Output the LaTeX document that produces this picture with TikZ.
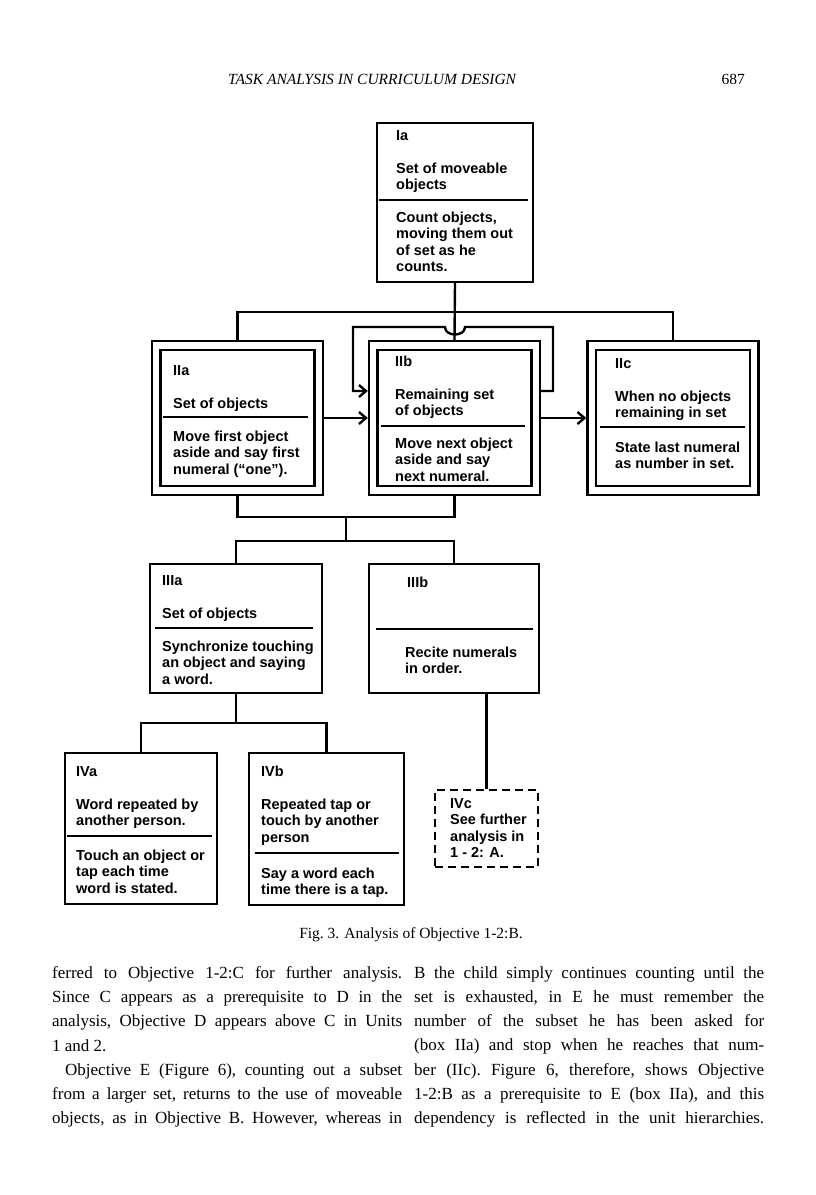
\documentclass[tikz,border=0pt]{standalone}
\usepackage{fontspec}
\setmainfont{Liberation Serif}
\setsansfont{Liberation Sans}
\usetikzlibrary{arrows.meta,positioning}
\newcommand{\boxfont}{\fontsize{14.5}{16.5}\selectfont\sffamily\bfseries}
\newcommand{\bodyfont}{\fontsize{17}{24.3}\selectfont\frenchspacing}
\tikzset{
  tbox/.style = {draw, line width=2.4pt, inner sep=0pt},
  dbox/.style = {draw, line width=2.2pt, inner sep=0pt, dash pattern=on 8pt off 5pt},
  txt/.style  = {anchor=base west, align=left, inner sep=0pt, font=\boxfont},
  sep/.style  = {line width=2pt},
  wire/.style = {line width=2.4pt},
  flow/.style = {wire, -{Straight Barb[length=7pt,width=12pt]}},
  col/.style  = {anchor=base west, inner sep=0pt, text width=350pt,
                 align=justify, font=\bodyfont},
}

\begin{document}
\begin{tikzpicture}[x=1pt,y=-1pt]
\fill[white] (0,0) rectangle (816,1195);
\useasboundingbox (0,0) rectangle (816,1195);
% running head
\node[anchor=base west, inner sep=0pt, font=\fontsize{15.5}{18}\selectfont\itshape] (head) at (228,84) {TASK ANALYSIS IN CURRICULUM DESIGN};
\node[anchor=base east, inner sep=0pt, font=\fontsize{15.5}{18}\selectfont] (page) at (745,84) {687};

% level I  (text nodes sit on the baseline of their last line)
\node[tbox, minimum width=156pt, minimum height=159pt] (Ia) at (455,202.5) {};
\node[txt] (Ia-top) at (396,189.5) {Ia\\[16.5pt]Set of moveable\\objects};
\draw[sep] (379,200) -- (528,200);
\node[txt] (Ia-bot) at (396,271.5) {Count objects,\\moving them out\\of set as he\\counts.};

% level II (double boxes)
\node[tbox, minimum width=171pt, minimum height=154pt] (IIa) at (237.5,418) {};
\node[tbox, minimum width=154pt, minimum height=136pt] (IIa-in) at (IIa) {};
\node[txt] (IIa-top) at (173,408) {IIa\\[16.5pt]Set of objects};
\draw[sep] (163,417) -- (308,417);
\node[txt] (IIa-bot) at (173,474) {Move first object\\aside and say first\\numeral (“one”).};

\node[tbox, minimum width=171pt, minimum height=154pt] (IIb) at (454.5,418) {};
\node[tbox, minimum width=154pt, minimum height=136pt] (IIb-in) at (IIb) {};
\node[txt] (IIb-top) at (395,415.5) {IIb\\[16.5pt]Remaining set\\of objects};
\draw[sep] (381,426) -- (525,426);
\node[txt] (IIb-bot) at (395,481) {Move next object\\aside and say\\next numeral.};

\node[tbox, minimum width=171pt, minimum height=154pt] (IIc) at (673,418) {};
\node[tbox, minimum width=154pt, minimum height=136pt] (IIc-in) at (IIc) {};
\node[txt] (IIc-top) at (615,417.5) {IIc\\[16.5pt]When no objects\\remaining in set};
\draw[sep] (600,427) -- (745,427);
\node[txt] (IIc-bot) at (615,468.5) {State last numeral\\as number in set.};

% level III
\node[tbox, minimum width=172pt, minimum height=129pt] (IIIa) at (236,628.5) {};
\node[txt] (IIIa-top) at (162,618) {IIIa\\[16.5pt]Set of objects};
\draw[sep] (155,628) -- (313,628);
\node[txt] (IIIa-bot) at (162,684) {Synchronize touching\\an object and saying\\a word.};

\node[tbox, minimum width=170pt, minimum height=129pt] (IIIb) at (454,628.5) {};
\node[txt] (IIIb-top) at (407,587) {IIIb};
\draw[sep] (376,629) -- (533,629);
\node[txt] (IIIb-bot) at (405,673.5) {Recite numerals\\in order.};

% level IV
\node[tbox, minimum width=152pt, minimum height=151pt] (IVa) at (141,828.5) {};
\node[txt] (IVa-top) at (76,825.5) {IVa\\[16.5pt]Word repeated by\\another person.};
\draw[sep] (67,836) -- (212,836);
\node[txt] (IVa-bot) at (76,893) {Touch an object or\\tap each time\\word is stated.};

\node[tbox, minimum width=155pt, minimum height=152pt] (IVb) at (326.5,829) {};
\node[txt] (IVb-top) at (261,842) {IVb\\[16.5pt]Repeated tap or\\touch by another\\person};
\draw[sep] (255,853) -- (399,853);
\node[txt] (IVb-bot) at (261,894.5) {Say a word each\\time there is a tap.};

\node[dbox, minimum width=103pt, minimum height=77pt] (IVc) at (486.5,828.5) {};
\node[txt] (IVc-txt) at (450,857.5) {IVc\\See further\\analysis in\\1 - 2: A.};

% connectors
\coordinate (fork) at (455,312);
\coordinate (loopL) at (353,327);
\coordinate (loopR) at (553,327);
\coordinate (hopL) at (445,327);
\coordinate (hopR) at (465,327);
\draw[wire] (Ia.south) -- (IIb.north);
\draw[wire] (IIa.north) |- (fork) -| (IIc.north);
\draw[flow] ([yshift=27pt]IIb.east) -| (loopR) -- (hopR)
  .. controls (465,337) and (445,337) .. (hopL) -- (loopL) |- ([yshift=27pt]IIb.west);
\draw[flow] (IIa.east) -- (IIb.west);
\draw[flow] (IIb.east) -- (IIc.west);

\coordinate (join2) at (346,517);
\coordinate (join3) at (346,541);
\draw[wire] (IIa.south) |- (join2) -| (IIb.south);
\draw[wire] (join2) -- (join3);
\draw[wire] (IIIa.north) |- (join3) -| (IIIb.north);

\coordinate (join4) at (236,723);
\draw[wire] (IIIa.south) -- (join4);
\draw[wire] (IVa.north) |- (join4) -| (IVb.north);
\draw[wire] (IIIb.south -| IVc.north) -- (IVc.north);

% caption and body text
\node[anchor=base, inner sep=0pt, font=\fontsize{15.5}{18}\selectfont] (caption) at (411,938) {Fig.~3. Analysis of Objective 1-2:B.};

\node[col, anchor=north west] (left) at (52,966) {\tolerance=9999\parfillskip=0pt
\noindent ferred to Objective 1-2:C for further analysis.\linebreak
Since C appears as a prerequisite to D in the\linebreak
analysis, Objective D appears above C in Units\linebreak
1 and 2.\hfill\null\par
\hspace*{13pt}Objective E (Figure 6), counting out a subset\linebreak
from a larger set, returns to the use of moveable\linebreak
objects, as in Objective B. However, whereas in\par};

\node[col, anchor=north west] (right) at (414,966) {\tolerance=9999\parfillskip=0pt
\noindent B the child simply continues counting until the\linebreak
set is exhausted, in E he must remember the\linebreak
number of the subset he has been asked for\linebreak
(box IIa) and stop when he reaches that num-\linebreak
ber (IIc). Figure 6, therefore, shows Objective\linebreak
1-2:B as a prerequisite to E (box IIa), and this\linebreak
dependency is reflected in the unit hierarchies.\par};
\end{tikzpicture}
\end{document}
